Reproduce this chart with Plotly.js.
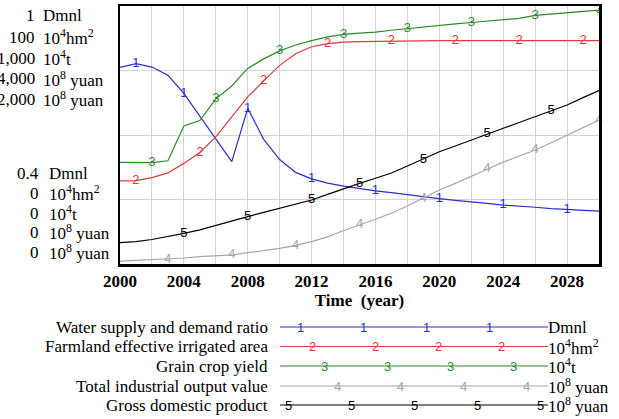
<!DOCTYPE html>
<html><head><meta charset="utf-8">
<script src="https://cdn.plot.ly/plotly-3.0.1.min.js"></script>
<style>html,body{margin:0;padding:0;background:#fff;}#chart{width:619px;height:419px;}</style>
</head><body><div id="chart"></div>
<script>
// ---- data ----
const years = [2000,2001,2002,2003,2004,2005,2006,2007,2008,2009,2010,2011,2012,2013,2014,2015,2016,2017,2018,2019,2020,2021,2022,2023,2024,2025,2026,2027,2028,2029,2030];
const waterRatio = [0.857,0.866,0.858,0.839,0.797,0.745,0.692,0.638,0.762,0.690,0.643,0.613,0.598,0.588,0.581,0.575,0.570,0.566,0.561,0.557,0.552,0.548,0.545,0.541,0.537,0.535,0.532,0.529,0.527,0.525,0.523];
const irrigatedArea = [32.2,32.3,33.5,35.3,39.0,43.2,49.3,57.1,64.8,71.0,77.0,81.5,84.2,85.4,86.0,86.2,86.3,86.6,86.6,86.6,86.6,86.6,86.6,86.6,86.6,86.6,86.6,86.6,86.6,86.6,86.6];
const grainYield = [394,394,393,400,535,556,640,690,758,795,826,849,866,880,890,895,899,906,913,919,926,931,936,941,946,952,964,969,974,979,984];
const industrialOutput = [46,55,64,73,93,113,127,140,175,205,243,290,346,420,520,605,700,786,900,1019,1147,1250,1354,1470,1580,1675,1767,1880,2000,2115,2233];
const gdp = [165,173,190,212,238,264,300,335,367,400,432,464,496,540,585,625,665,705,760,812,870,915,961,1012,1052,1097,1142,1190,1233,1290,1344];

const seriesNames = ['Water supply and demand ratio','Farmland effective irrigated area','Grain crop yield','Total industrial output value','Gross domestic product'];
const unitLabels = ['Dmnl','10<sup>4</sup>hm<sup>2</sup>','10<sup>4</sup>t','10<sup>8</sup> yuan','10<sup>8</sup> yuan'];
const axisMin = [0.4,0,0,0,0];
const axisMax = [1,100,1000,4000,2000];
const axisMaxLabels = ['1','100','1,000','4,000','2,000'];
const axisMinLabels = ['0.4','0','0','0','0'];
const markerYears = [
  [2001,2004,2008,2012,2016,2020,2024,2028],
  [2001,2005,2009,2013,2017,2021,2025,2029],
  [2002,2006,2010,2014,2018,2022,2026,2030],
  [2003,2007,2011,2015,2019,2023,2026,2030],
  [2004,2008,2012,2015,2019,2023,2027]
];
const xTickYears = [2000,2004,2008,2012,2016,2020,2024,2028];

// ---- styling ----
const seriesValues = [waterRatio, irrigatedArea, grainYield, industrialOutput, gdp];
const colors = ['#2d2dcc','#e03a3c','#2b8a2b','#a6a6a6','#000000'];
const axisIds = ['y','y2','y3','y4','y5'];
const serif = 'Liberation Serif, Times New Roman, serif';
const gridColor = '#d4d4d4';

const W = 619, H = 419, L = 120, R = 20, T = 6, B = 155;
const pw = W - L - R, ph = H - T - B;
const px = x => (x - L) / pw;
const py = y => (H - B - y) / ph;

const traces = [];
seriesValues.forEach((vals, i) => {
  traces.push({x: years, y: vals, yaxis: axisIds[i], type: 'scatter', mode: 'lines',
    line: {color: colors[i], width: 1.2}, hoverinfo: 'skip', showlegend: false});
});
seriesValues.forEach((vals, i) => {
  const mx = markerYears[i];
  traces.push({x: mx, y: mx.map(yr => vals[years.indexOf(yr)]), yaxis: axisIds[i], type: 'scatter', mode: 'text',
    text: mx.map(() => String(i + 1)), textposition: 'middle center', cliponaxis: false,
    textfont: {family: 'Liberation Sans, Arial, sans-serif', size: 13, color: colors[i]},
    hoverinfo: 'skip', showlegend: false});
});

const annotations = [];
const shapes = [];
const topRows = [16, 37, 58, 79, 99];
const botRows = [173, 193, 213, 232, 252];
const lab = {family: serif, size: 17, color: '#000'};
for (let i = 0; i < 5; i++) {
  annotations.push({xref: 'paper', yref: 'paper', x: px(37), y: py(topRows[i]), xanchor: 'right', yanchor: 'middle', text: axisMaxLabels[i], showarrow: false, font: lab});
  annotations.push({xref: 'paper', yref: 'paper', x: px(41), y: py(topRows[i]), xanchor: 'left', yanchor: 'middle', text: unitLabels[i], showarrow: false, font: lab});
  annotations.push({xref: 'paper', yref: 'paper', x: px(41), y: py(botRows[i]), xanchor: 'right', yanchor: 'middle', text: axisMinLabels[i], showarrow: false, font: lab});
  annotations.push({xref: 'paper', yref: 'paper', x: px(47), y: py(botRows[i]), xanchor: 'left', yanchor: 'middle', text: unitLabels[i], showarrow: false, font: lab});
}
// legend
const legRows = [327, 346.5, 366, 386, 405];
const legStarts = [300, 312, 324, 337, 288];
const legCounts = [4, 4, 4, 4, 5];
for (let i = 0; i < 5; i++) {
  const yy = py(legRows[i]);
  annotations.push({xref: 'paper', yref: 'paper', x: px(270), y: yy, xanchor: 'right', yanchor: 'middle', text: seriesNames[i], showarrow: false, font: lab});
  annotations.push({xref: 'paper', yref: 'paper', x: px(546), y: yy, xanchor: 'left', yanchor: 'middle', text: unitLabels[i], showarrow: false, font: lab});
  shapes.push({type: 'line', xref: 'paper', yref: 'paper', x0: px(280), x1: px(548), y0: yy, y1: yy, line: {color: colors[i], width: 1.2}});
  for (let k = 0; k < legCounts[i]; k++) {
    annotations.push({xref: 'paper', yref: 'paper', x: px(legStarts[i] + k * 63), y: yy, xanchor: 'center', yanchor: 'middle', text: String(i + 1), showarrow: false,
      font: {family: 'Liberation Sans, Arial, sans-serif', size: 13, color: colors[i]}});
  }
}

const layout = {
  width: W, height: H, margin: {l: L, r: R, t: T, b: B},
  paper_bgcolor: '#fff', plot_bgcolor: '#fff', showlegend: false,
  font: {family: serif, color: '#000'},
  xaxis: {range: [2000, 2030], tickvals: xTickYears, ticktext: xTickYears.map(v => '<b>' + v + '</b>'),
    tickfont: {family: serif, size: 17, color: '#000'}, ticks: '', showgrid: true, gridcolor: gridColor, gridwidth: 1,
    minor: {dtick: 2, tick0: 2000, showgrid: true, gridcolor: gridColor, gridwidth: 1},
    showline: true, mirror: true, linecolor: '#000', linewidth: 2.5, zeroline: false,
    title: {text: '<b>Time\u00a0 (year)</b>', font: {family: serif, size: 17, color: '#000'}, standoff: 4}},
  yaxis: {range: [axisMin[0], axisMax[0]], tick0: 0.4, dtick: 0.15, showticklabels: false, ticks: '',
    showgrid: true, gridcolor: gridColor, gridwidth: 1, zeroline: false,
    showline: true, mirror: true, linecolor: '#000', linewidth: 2.5},
  annotations: annotations, shapes: shapes
};
for (let i = 1; i < 5; i++) {
  layout['yaxis' + (i + 1)] = {range: [axisMin[i], axisMax[i]], overlaying: 'y', visible: false, showgrid: false, zeroline: false};
}
Plotly.newPlot('chart', traces, layout, {staticPlot: true, displayModeBar: false});
</script></body></html>
